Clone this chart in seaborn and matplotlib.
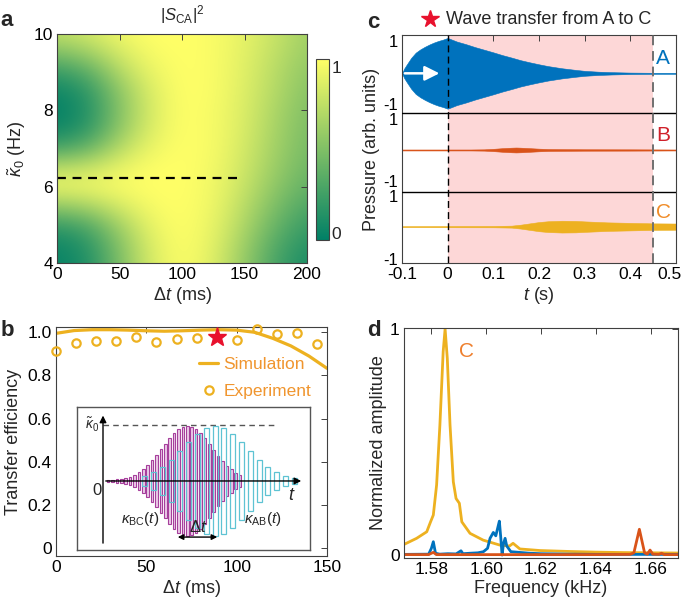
import numpy as np
import matplotlib
matplotlib.use('Agg')
import matplotlib.pyplot as plt
import matplotlib.transforms as mtransforms
import seaborn as sns

# ---------------- data ----------------
# a: |S_CA|^2 map, rows = kappa0 (Hz), columns = delta t (ms)
map_dt = [0, 25, 50, 75, 100, 125, 150, 175, 200]
map_k = [4.0, 4.5, 5.0, 5.5, 6.0, 6.5, 7.0, 7.5, 8.0, 8.5, 9.0, 9.5, 10.0]
map_s = [
    [0.03, 0.12, 0.48, 0.85, 0.99, 0.88, 0.58, 0.27, 0.10],
    [0.06, 0.16, 0.52, 0.87, 1.00, 0.90, 0.62, 0.32, 0.15],
    [0.22, 0.32, 0.64, 0.92, 1.00, 0.92, 0.68, 0.40, 0.22],
    [0.58, 0.66, 0.84, 0.97, 1.00, 0.94, 0.73, 0.48, 0.30],
    [0.92, 0.93, 0.97, 1.00, 1.00, 0.95, 0.78, 0.55, 0.38],
    [0.72, 0.78, 0.91, 0.99, 1.00, 0.96, 0.81, 0.60, 0.43],
    [0.28, 0.40, 0.72, 0.93, 1.00, 0.97, 0.83, 0.63, 0.46],
    [0.06, 0.18, 0.56, 0.87, 1.00, 0.97, 0.85, 0.65, 0.48],
    [0.01, 0.13, 0.52, 0.85, 1.00, 0.97, 0.86, 0.67, 0.50],
    [0.06, 0.18, 0.56, 0.87, 1.00, 0.98, 0.87, 0.70, 0.53],
    [0.22, 0.35, 0.70, 0.92, 1.00, 0.98, 0.88, 0.72, 0.56],
    [0.50, 0.62, 0.84, 0.97, 1.00, 0.98, 0.89, 0.75, 0.60],
    [0.75, 0.82, 0.94, 1.00, 1.00, 0.98, 0.90, 0.78, 0.63],
]
dash_k = 6.22
dash_dt = [0, 144]

# b: transfer efficiency
sim_dt = [0, 10, 20, 30, 40, 50, 60, 70, 80, 90, 100, 110, 120, 130, 140, 150]
sim_eff = [0.995, 1.008, 1.012, 1.012, 1.010, 1.007, 1.005, 1.007, 1.010, 1.012,
           1.010, 1.000, 0.972, 0.937, 0.890, 0.833]
exp_dt = [0, 11.1, 22.2, 33.3, 44.4, 55.6, 66.7, 77.8, 100, 111.1, 122.2, 133.3, 144.4]
exp_eff = [0.915, 0.952, 0.960, 0.961, 0.980, 0.955, 0.968, 0.972, 0.964, 1.014,
           0.991, 0.998, 0.946]
star_dt = [88.9]
star_eff = [0.980]

# b inset: modulated coupling pulses (stripe centre, half height)
bc_t = [5, 9.4, 13.8, 18.2, 22.6, 27, 31.4, 35.8, 40.2, 44.6, 49, 53.4, 57.8, 62.2,
        66.6, 71, 75.4, 79.8, 84.2, 88.6, 93, 97.4, 101.8, 106.2, 110.6, 115, 119.4,
        123.8, 128.2, 132.6, 137]
bc_amp = [0.02, 0.02, 0.03, 0.04, 0.05, 0.07, 0.11, 0.16, 0.22, 0.29, 0.38, 0.47,
          0.58, 0.68, 0.79, 0.87, 0.94, 0.99, 1.0, 0.98, 0.94, 0.87, 0.78, 0.67,
          0.57, 0.46, 0.37, 0.28, 0.21, 0.15, 0.11]
ab_t = [41.6, 50.4, 59.2, 68, 76.8, 85.6, 94.4, 103.2, 112, 120.8, 129.6, 138.4,
        147.2, 156, 164.8, 173.6, 182.4, 191.2]
ab_amp = [0.09, 0.16, 0.26, 0.39, 0.55, 0.71, 0.86, 0.96, 1.0, 0.96, 0.86, 0.71,
          0.55, 0.39, 0.26, 0.16, 0.09, 0.05]

# c: pressure envelopes
tA = [-0.1, -0.095, -0.09, -0.08, -0.07, -0.06, -0.05, -0.04, -0.03, -0.02, -0.01,
      0.0, 0.02, 0.04, 0.06, 0.08, 0.1, 0.12, 0.14, 0.16, 0.18, 0.2, 0.22, 0.25,
      0.28, 0.3, 0.33, 0.36, 0.4, 0.45, 0.5]
envA = [0.0, 0.15, 0.26, 0.47, 0.63, 0.73, 0.81, 0.88, 0.94, 0.99, 1.03,
        1.08, 0.97, 0.89, 0.80, 0.72, 0.64, 0.555, 0.48, 0.40, 0.335, 0.275, 0.22,
        0.155, 0.105, 0.075, 0.05, 0.035, 0.022, 0.016, 0.015]
tB = [-0.1, 0.05, 0.08, 0.1, 0.12, 0.14, 0.15, 0.16, 0.18, 0.2, 0.22, 0.26, 0.3, 0.4, 0.5]
envB = [0.015, 0.015, 0.02, 0.035, 0.055, 0.07, 0.075, 0.07, 0.055, 0.04, 0.03,
        0.025, 0.022, 0.02, 0.015]
tC = [-0.1, 0.1, 0.14, 0.16, 0.18, 0.2, 0.22, 0.25, 0.28, 0.3, 0.35, 0.4, 0.45, 0.5]
envC = [0.015, 0.02, 0.03, 0.06, 0.10, 0.14, 0.165, 0.18, 0.175, 0.16, 0.13, 0.115,
        0.10, 0.095]
trace_offsets = [0, -2.34, -4.68]
trace_names = ['A', 'B', 'C']
window = [0, 0.45]

# d: normalized spectra
fC = [1.570, 1.5746, 1.5783, 1.5797, 1.5807, 1.5819, 1.5831, 1.5843, 1.585, 1.5858,
      1.5868, 1.588, 1.589, 1.5902, 1.5911, 1.5941, 1.5989, 1.605, 1.6085, 1.6098,
      1.6123, 1.6196, 1.63, 1.64, 1.65, 1.66, 1.67]
aC = [0.047, 0.074, 0.103, 0.147, 0.177, 0.31, 0.575, 0.90, 1.0, 0.87, 0.575, 0.324,
      0.25, 0.229, 0.147, 0.096, 0.066, 0.044, 0.04, 0.052, 0.027, 0.02, 0.016,
      0.013, 0.011, 0.01, 0.009]
fA = [1.570, 1.579, 1.5800, 1.5807, 1.5815, 1.583, 1.586, 1.589, 1.5908, 1.5915,
      1.594, 1.597, 1.599, 1.6005, 1.6014, 1.6026, 1.6035, 1.6042, 1.6048, 1.6053,
      1.6058, 1.6063, 1.6069, 1.6075, 1.6081, 1.609, 1.612, 1.616, 1.62, 1.63, 1.64,
      1.65, 1.66, 1.67]
aA = [0.003, 0.004, 0.03, 0.059, 0.008, 0.004, 0.006, 0.005, 0.019, 0.006, 0.008,
      0.01, 0.015, 0.03, 0.074, 0.10, 0.085, 0.12, 0.15, 0.08, 0.0, 0.05, 0.074,
      0.04, 0.03, 0.015, 0.012, 0.008, 0.006, 0.004, 0.003, 0.003, 0.003, 0.003]
fB = [1.570, 1.579, 1.5807, 1.5818, 1.60, 1.62, 1.64, 1.6525, 1.6539, 1.6559, 1.6578,
      1.6588, 1.6598, 1.6608, 1.663, 1.664, 1.665, 1.67]
aB = [0.002, 0.002, 0.012, 0.002, 0.002, 0.002, 0.002, 0.003, 0.01, 0.114, 0.01,
      0.004, 0.022, 0.004, 0.003, 0.008, 0.002, 0.002]

# ---------------- style ----------------
sns.set_theme(style='white')
plt.rcParams['font.family'] = ['Liberation Sans', 'DejaVu Sans']
plt.rcParams['mathtext.fontset'] = 'custom'
plt.rcParams['mathtext.rm'] = 'Liberation Sans'
plt.rcParams['mathtext.it'] = 'Liberation Sans:italic'
plt.rcParams['mathtext.bf'] = 'Liberation Sans:bold'
plt.rcParams['axes.edgecolor'] = '#404040'
plt.rcParams['axes.linewidth'] = 0.8

BLUE, RED, YEL = '#0072BD', '#D95319', '#EDB120'
W, H = 685, 608
fig = plt.figure(figsize=(W / 100, H / 100), dpi=100)


def px_axes(l, t, r, b):
    return fig.add_axes([l / W, 1 - b / H, (r - l) / W, (b - t) / H])


def matlab_ticks(ax):
    ax.tick_params(direction='in', length=4, width=0.7, top=True, right=True,
                   labelsize=12.5, pad=3, colors='#404040', labelcolor='black')


def nudge(label, dx=0, dy=0):
    label.set_transform(label.get_transform() +
                        mtransforms.ScaledTranslation(dx / 100, dy / 100, fig.dpi_scale_trans))


# ---------------- a ----------------
ax = px_axes(57, 34, 307, 263)
im = ax.imshow(np.array(map_s), origin='lower', aspect='auto', cmap='summer',
               vmin=0, vmax=1, interpolation='bicubic',
               extent=(map_dt[0] - 12.5, map_dt[-1] + 12.5, map_k[0] - 0.25, map_k[-1] + 0.25))
ax.plot(dash_dt, [dash_k, dash_k], color='black', lw=1.6, ls=(0, (4, 3)))
ax.set_xlim(0, 200)
ax.set_ylim(4, 10)
ax.set_xticks([0, 50, 100, 150, 200])
ax.set_yticks([4, 6, 8, 10])
matlab_ticks(ax)
ax.set_xlabel(r'$\mathit{\Delta t}$ (ms)', fontsize=13, labelpad=2)
ax.set_ylabel(r'$\tilde{\kappa}_0$ (Hz)', fontsize=13, labelpad=4)
fig.text(182 / W, 1 - 15 / H, r'$|S_{\mathrm{CA}}|^2$', fontsize=12, ha='center', va='center')
cax = px_axes(316, 59, 329, 240)
cb = fig.colorbar(im, cax=cax, ticks=[0, 1])
cb.outline.set_edgecolor('#404040')
cb.outline.set_linewidth(0.8)
cax.tick_params(direction='in', length=0, labelsize=12.5, pad=2)
cax.set_yticklabels(['0', '1'])
for lab, dy in zip(cax.get_yticklabels(), [7, -8]):
    nudge(lab, dy=dy)

# ---------------- b ----------------
ax = px_axes(56, 327, 327, 556)
sns.lineplot(x=sim_dt, y=sim_eff, ax=ax, color=YEL, lw=2.3, label='Simulation')
ax.plot(exp_dt, exp_eff, ls='none', marker='o', ms=6, mfc='none', mec=YEL, mew=1.6,
        label='Experiment', clip_on=False, zorder=4)
ax.plot(star_dt, star_eff, ls='none', marker='*', ms=14, color='#E8112D', zorder=5)
ax.set_xlim(0, 150)
ax.set_ylim(-0.036, 1.0245)
ax.set_xticks([0, 50, 100, 150])
ax.set_yticks([0, 0.2, 0.4, 0.6, 0.8, 1.0])
ax.set_yticklabels(['0', '0.2', '0.4', '0.6', '0.8', '1.0'])
matlab_ticks(ax)
ax.set_xlabel(r'$\mathit{\Delta t}$ (ms)', fontsize=13, labelpad=2)
ax.set_ylabel('Transfer efficiency', fontsize=13, labelpad=4)
leg = ax.legend(loc='upper left', bbox_to_anchor=(0.47, 0.937), frameon=False,
                fontsize=12.5, handlelength=1.1, handletextpad=0.3, labelspacing=0.68,
                labelcolor='#F0952E')

# inset
ins = px_axes(77, 407, 310, 550)
ins.set_xlim(-26, 207)
ins.set_ylim(-1.255, 1.345)
ins.set_xticks([])
ins.set_yticks([])
for s in ins.spines.values():
    s.set_edgecolor('#555555')
    s.set_linewidth(1)
bc_amp_a = np.array(bc_amp)
ab_amp_a = np.array(ab_amp)
ins.bar(bc_t, 2 * bc_amp_a, bottom=-bc_amp_a, width=2.6, facecolor='#EBCBE8',
        edgecolor='#A63F9C', lw=0.8, zorder=2)
ins.bar(ab_t, 2 * ab_amp_a, bottom=-ab_amp_a, width=5.0, facecolor='none',
        edgecolor='#5EC3D3', lw=0.9, zorder=3)
ins.plot([0, 175], [1.02, 1.02], color='#555555', lw=1, ls=(0, (4, 3)))
ins.annotate('', xy=(0, 1.24), xytext=(0, -1.18),
             arrowprops=dict(arrowstyle='-|>', color='black', lw=1, mutation_scale=10))
ins.annotate('', xy=(201, 0), xytext=(0, 0),
             arrowprops=dict(arrowstyle='-|>', color='black', lw=1, mutation_scale=10), zorder=4)
ins.annotate('', xy=(72, -1.02), xytext=(117, -1.02),
             arrowprops=dict(arrowstyle='<|-|>', color='black', lw=1, mutation_scale=8), zorder=4)
ins.text(-11, 1.02, r'$\tilde{\kappa}_0$', fontsize=10, ha='center', va='center')
ins.text(-6, -0.18, '0', fontsize=12, ha='center', va='center')
ins.text(189, -0.26, r'$t$', fontsize=13, ha='center', va='center')
ins.text(37, -0.7, r'$\kappa_{\mathrm{BC}}(t)$', fontsize=11, ha='center', va='center')
ins.text(160, -0.7, r'$\kappa_{\mathrm{AB}}(t)$', fontsize=11, ha='center', va='center')
ins.text(95, -0.84, r'$\mathit{\Delta t}$', fontsize=12, ha='center', va='center')

# ---------------- c ----------------
ax = px_axes(402, 35, 676, 263)
ax.axvspan(window[0], window[1], color='#FDD7D7', lw=0, zorder=0)
for (tt, ee), off, col in zip([(tA, envA), (tB, envB), (tC, envC)], trace_offsets,
                              [BLUE, RED, YEL]):
    ee = np.array(ee)
    ax.fill_between(tt, off - ee, off + ee, color=col, lw=0.4, edgecolor=col, zorder=2)
ax.axhline(-1.22, color='black', lw=1, zorder=3)
ax.axhline(-3.61, color='black', lw=1, zorder=3)
ax.axvline(window[0], color='black', lw=1, ls=(0, (5, 3)), zorder=3)
ax.axvline(window[1], color='#707070', lw=1.4, ls=(0, (5, 3)), zorder=3)
ax.annotate('', xy=(-0.012, 0), xytext=(-0.1, 0),
            arrowprops=dict(arrowstyle='-|>', color='white', lw=1.8, mutation_scale=22), zorder=4)
for name, off, col in zip(trace_names, trace_offsets, [BLUE, '#D0202A', '#F08C28']):
    ax.text(0.472, off + 0.44, name, color=col, fontsize=15, ha='center', va='center')
ax.set_xlim(-0.1, 0.5)
ax.set_ylim(-5.79, 1.17)
ax.set_xticks([-0.1, 0, 0.1, 0.2, 0.3, 0.4, 0.5])
ax.set_xticklabels(['-0.1', '0', '0.1', '0.2', '0.3', '0.4', '0.5'])
yt = []
for off in trace_offsets:
    yt += [off + 1, off - 1]
ax.set_yticks(yt)
ax.set_yticklabels(['1', '-1'] * 3)
matlab_ticks(ax)
ax.tick_params(axis='y', right=False, length=0, labelsize=12)
nudge(ax.get_xticklabels()[-1], dx=-6)
# keep neighbouring "-1" / "1" labels apart at the panel separators
for i, lab in enumerate(ax.get_yticklabels()):
    if i in (1, 3):
        nudge(lab, dy=2)
    elif i in (2, 4):
        nudge(lab, dy=-2)
ax.set_xlabel(r'$t$ (s)', fontsize=13, labelpad=2)
ax.set_ylabel('Pressure (arb. units)', fontsize=13, labelpad=2)
ax.plot([430 / W], [1 - 19 / H], marker='*', ms=13, color='#E8112D',
        transform=fig.transFigure, clip_on=False)
fig.text(446 / W, 1 - 19 / H, 'Wave transfer from A to C', fontsize=13, ha='left', va='center')

# ---------------- d ----------------
ax = px_axes(404, 328, 678, 558)
sns.lineplot(x=fC, y=aC, ax=ax, color=YEL, lw=2.0, sort=False)
sns.lineplot(x=fA, y=aA, ax=ax, color=BLUE, lw=2.0, sort=False)
sns.lineplot(x=fB, y=aB, ax=ax, color=RED, lw=2.0, sort=False)
ax.text(1.5929, 0.9, 'C', color='#EE7F2D', fontsize=15, ha='center', va='center')
ax.set_xlim(1.57, 1.67)
ax.set_ylim(-0.013, 1.004)
ax.set_xticks([1.58, 1.60, 1.62, 1.64, 1.66])
ax.set_xticklabels(['1.58', '1.60', '1.62', '1.64', '1.66'])
ax.set_yticks([0, 1])
ax.set_yticklabels(['0', '1'])
matlab_ticks(ax)
ax.set_xlabel('Frequency (kHz)', fontsize=13, labelpad=2)
ax.set_ylabel('Normalized amplitude', fontsize=13, labelpad=2)

# panel letters
for lab, x, y in [('a', 7, 21), ('b', 7, 330), ('c', 373, 22), ('d', 374, 330)]:
    fig.text(x / W, 1 - y / H, lab, fontsize=16, fontweight='bold', ha='center', va='center')

fig.savefig('out.png', dpi=100)
